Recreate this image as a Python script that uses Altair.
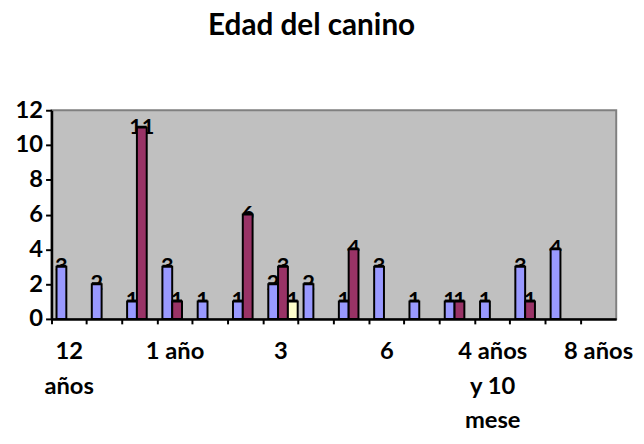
import json
import altair as alt
import pandas as pd

# ---- data ----
title_text = "Edad del canino"
positions = list(range(16))
# axis labels (Excel shows only every third category label)
category_labels = [["12", "años"], "", "", "1 año", "", "", "3", "", "",
                   "6", "", "", ["4 años", "y 10", "mese"], "", "", "8 años"]
series_names = ["Serie 1", "Serie 2", "Serie 3"]
serie1 = [3, 2, 1, 3, 1, 1, 2, 2, 1, 3, 1, 1, 1, 3, 4, None]
serie2 = [None, None, 11, 1, None, 6, 3, None, 4, None, None, 1, None, 1, None, None]
serie3 = [None, None, None, None, None, None, 1, None, None, None, None, None, None, None, None, None]
series_colors = ["#9999FF", "#993366", "#FFFFCC"]

rows = []
for name, vals in zip(series_names, [serie1, serie2, serie3]):
    for p, v in zip(positions, vals):
        if v is not None:
            rows.append({"cat": p, "series": name, "value": v})
df = pd.DataFrame(rows)

W, H = 571, 211
FONT = "Lato"

x_enc = alt.X(
    "cat:O",
    scale=alt.Scale(domain=positions, paddingInner=0, paddingOuter=0),
    axis=alt.Axis(
        title=None,
        labelExpr=json.dumps(category_labels, ensure_ascii=False) + "[datum.value]",
        bandPosition=0,
        labelAngle=0,
        labelOverlap=False,
        labelFont=FONT,
        labelFontSize=24,
        labelFontWeight="bold",
        labelColor="black",
        labelPadding=16,
        labelLineHeight=35,
        labelBaseline="top",
        tickSize=5,
        tickColor="black",
        tickWidth=2,
        domainColor="black",
        domainWidth=2.5,
    ),
)
xoff_enc = alt.XOffset(
    "series:N",
    scale=alt.Scale(domain=series_names, paddingInner=0, paddingOuter=0.3, align=0.85),
)
y_enc = alt.Y(
    "value:Q",
    scale=alt.Scale(domain=[0, 12], nice=False),
    axis=alt.Axis(
        title=None,
        values=[0, 2, 4, 6, 8, 10, 12],
        grid=False,
        labelFont=FONT,
        labelFontSize=24,
        labelFontWeight="bold",
        labelColor="black",
        labelPadding=3,
        tickSize=6,
        tickColor="black",
        tickWidth=2,
        domainColor="black",
        domainWidth=2.5,
    ),
)
color_enc = alt.Color(
    "series:N",
    scale=alt.Scale(domain=series_names, range=series_colors),
    legend=None,
)

base = alt.Chart(df).encode(x=x_enc, xOffset=xoff_enc, y=y_enc)

labels = base.mark_text(
    font=FONT, fontSize=22, fontWeight="bold", color="black", baseline="middle", dy=-1
).encode(text="value:Q")

shadow = base.mark_bar(color="black", xOffset=2, yOffset=-2)

bars = base.mark_bar(stroke="black", strokeWidth=2).encode(color=color_enc)

title = alt.Chart(pd.DataFrame({"t": [title_text]})).mark_text(
    font=FONT, fontSize=30, fontWeight="bold", color="black", baseline="alphabetic", align="center"
).encode(x=alt.value(263), y=alt.value(-76), text="t:N")

chart = alt.layer(labels, shadow, bars, title).properties(
    width=W,
    height=H,
    autosize=alt.AutoSizeParams(type="none"),
    padding={"left": 44, "top": 101, "right": 20, "bottom": 116},
).configure_view(
    fill="#C0C0C0", stroke="#808080", strokeWidth=2
)

chart.save("out.html", embed_options={"renderer": "svg", "actions": False})
